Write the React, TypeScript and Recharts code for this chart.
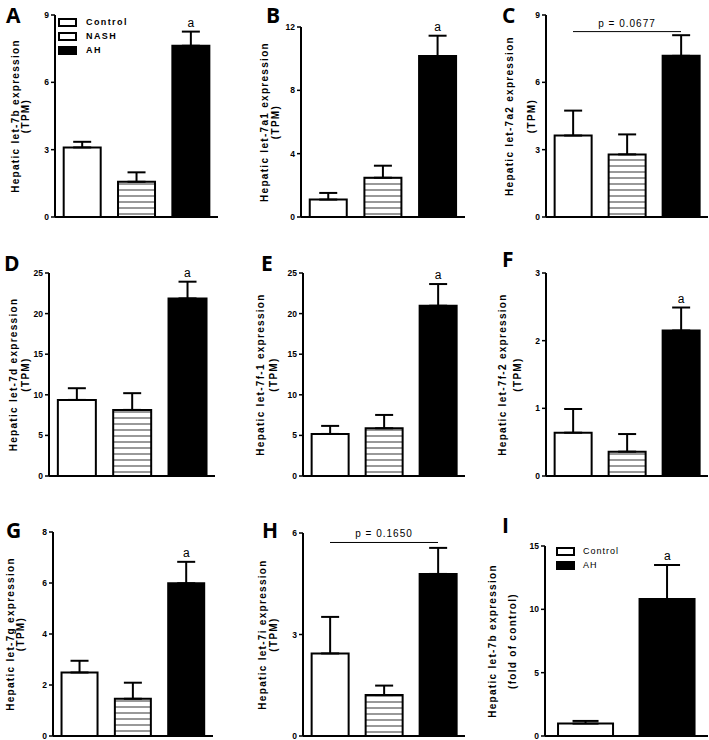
import {
  Bar,
  BarChart,
  Cell,
  ErrorBar,
  Legend,
  ReferenceDot,
  ReferenceLine,
  XAxis,
  YAxis,
} from "recharts";

// groups
const GROUPS = ["Control", "NASH", "AH"];
const GROUPS_FOLD = ["Control", "AH"];

// means and SEMs
const LET7B_TPM = [3.1, 1.57, 7.63];
const LET7B_TPM_SEM = [0.25, 0.42, 0.63];
const LET7A1_TPM = [1.1, 2.48, 10.17];
const LET7A1_TPM_SEM = [0.42, 0.76, 1.28];
const LET7A2_TPM = [3.63, 2.79, 7.18];
const LET7A2_TPM_SEM = [1.11, 0.89, 0.92];
const LET7D_TPM = [9.37, 8.14, 21.87];
const LET7D_TPM_SEM = [1.44, 2.06, 2.06];
const LET7F1_TPM = [5.18, 5.88, 20.97];
const LET7F1_TPM_SEM = [0.99, 1.64, 2.67];
const LET7F2_TPM = [0.64, 0.36, 2.15];
const LET7F2_TPM_SEM = [0.35, 0.26, 0.34];
const LET7G_TPM = [2.49, 1.46, 5.99];
const LET7G_TPM_SEM = [0.46, 0.63, 0.84];
const LET7I_TPM = [2.44, 1.21, 4.79];
const LET7I_TPM_SEM = [1.08, 0.28, 0.77];
const LET7B_FOLD = [0.98, 10.81];
const LET7B_FOLD_SEM = [0.21, 2.69];

// y ticks
const TICKS_A = [0, 3, 6, 9];
const TICKS_B = [0, 4, 8, 12];
const TICKS_C = [0, 3, 6, 9];
const TICKS_D = [0, 5, 10, 15, 20, 25];
const TICKS_E = [0, 5, 10, 15, 20, 25];
const TICKS_F = [0, 1, 2, 3];
const TICKS_G = [0, 2, 4, 6, 8];
const TICKS_H = [0, 3, 6];
const TICKS_I = [0, 5, 10, 15];

type PanelData = {
  letter: string;
  label: string[];
  groups: string[];
  mean: number[];
  sem: number[];
  ticks: number[];
  sig?: string;
  pText?: string;
  pY?: number;
  legend?: "bold" | "plain";
};

const PANELS: PanelData[] = [
  { letter: "A", label: ["Hepatic let-7b expression", "(TPM)"], groups: GROUPS, mean: LET7B_TPM, sem: LET7B_TPM_SEM, ticks: TICKS_A, sig: "a", legend: "bold" },
  { letter: "B", label: ["Hepatic let-7a1 expression", "(TPM)"], groups: GROUPS, mean: LET7A1_TPM, sem: LET7A1_TPM_SEM, ticks: TICKS_B, sig: "a" },
  { letter: "C", label: ["Hepatic let-7a2 expression", "(TPM)"], groups: GROUPS, mean: LET7A2_TPM, sem: LET7A2_TPM_SEM, ticks: TICKS_C, pText: "p = 0.0677", pY: 8.26 },
  { letter: "D", label: ["Hepatic let-7d expression", "(TPM)"], groups: GROUPS, mean: LET7D_TPM, sem: LET7D_TPM_SEM, ticks: TICKS_D, sig: "a" },
  { letter: "E", label: ["Hepatic let-7f-1 expression", "(TPM)"], groups: GROUPS, mean: LET7F1_TPM, sem: LET7F1_TPM_SEM, ticks: TICKS_E, sig: "a" },
  { letter: "F", label: ["Hepatic let-7f-2 expression", "(TPM)"], groups: GROUPS, mean: LET7F2_TPM, sem: LET7F2_TPM_SEM, ticks: TICKS_F, sig: "a" },
  { letter: "G", label: ["Hepatic let-7g expression", "(TPM)"], groups: GROUPS, mean: LET7G_TPM, sem: LET7G_TPM_SEM, ticks: TICKS_G, sig: "a" },
  { letter: "H", label: ["Hepatic let-7i expression", "(TPM)"], groups: GROUPS, mean: LET7I_TPM, sem: LET7I_TPM_SEM, ticks: TICKS_H, pText: "p = 0.1650", pY: 5.72 },
  { letter: "I", label: ["Hepatic let-7b expression", "(fold of control)"], groups: GROUPS_FOLD, mean: LET7B_FOLD, sem: LET7B_FOLD_SEM, ticks: TICKS_I, sig: "a", legend: "plain" },
];

// page positions of each panel (axis corner, plot top, axis end, letter, label columns)
const LAYOUT = [
  { axisX: 55, top: 15, bottom: 217, right: 218, letterX: 6, letterY: 1, labelX: [15, 25], capW: 9, legX: 58, legY: 15 },
  { axisX: 301, top: 27, bottom: 217, right: 465, letterX: 266, letterY: 1, labelX: [264, 275], capW: 9 },
  { axisX: 546, top: 15, bottom: 217, right: 708, letterX: 502, letterY: 1, labelX: [509, 531], capW: 9 },
  { axisX: 49, top: 273, bottom: 476, right: 215, letterX: 4, letterY: 249, labelX: [13, 25], capW: 9 },
  { axisX: 303, top: 273, bottom: 476, right: 465, letterX: 261, letterY: 249, labelX: [260, 273], capW: 9 },
  { axisX: 546, top: 273, bottom: 476, right: 708, letterX: 502, letterY: 245, labelX: [502, 517], capW: 9 },
  { axisX: 53, top: 532, bottom: 736, right: 213, letterX: 6, letterY: 516, labelX: [10, 20], capW: 9 },
  { axisX: 303, top: 533, bottom: 736, right: 465, letterX: 262, letterY: 516, labelX: [262, 273], capW: 9 },
  { axisX: 545, top: 546, bottom: 736, right: 708, letterX: 502, letterY: 511, labelX: [492, 512], capW: 13, legX: 556, legY: 544 },
];

const FILL: Record<string, string> = {
  Control: "#fff",
  NASH: "url(#nash-stripes)",
  AH: "#000",
};

const YW = 64;
const TOPM = 20;
const BOTM = 8;

function YLabel({ viewBox, lines, xs }: any) {
  const cy = viewBox.y + viewBox.height / 2;
  return (
    <g>
      {lines.map((t: string, i: number) => (
        <text
          key={t}
          x={xs[i]}
          y={cy}
          transform={`rotate(-90 ${xs[i]} ${cy})`}
          textAnchor="middle"
          dominantBaseline="central"
          fontSize={10}
          fontWeight={700}
          letterSpacing={1.3}
          fill="#000"
        >
          {t}
        </text>
      ))}
    </g>
  );
}

function LegendBox({ groups, kind }: { groups: string[]; kind: string }) {
  return (
    <div>
      {groups.map((g) => (
        <div key={g} style={{ display: "flex", alignItems: "center", height: 14 }}>
          <div
            style={{
              width: 15,
              height: 5,
              border: "2px solid #000",
              background: g === "AH" ? "#000" : "#fff",
            }}
          />
          <span
            style={{
              marginLeft: kind === "bold" ? 9 : 8,
              fontSize: 9,
              fontWeight: kind === "bold" ? 700 : 400,
              letterSpacing: kind === "bold" ? 1.4 : 1,
              color: "#000",
            }}
          >
            {g}
          </span>
        </div>
      ))}
    </div>
  );
}

function Panel({ p, g }: { p: PanelData; g: (typeof LAYOUT)[number] }) {
  const data = p.groups.map((group, i) => ({
    group,
    mean: p.mean[i],
    sem: [0, p.sem[i]],
    top: p.mean[i] + p.sem[i],
  }));
  const left = g.axisX - YW;
  const top = g.top - TOPM;
  const w = YW + g.right - g.axisX;
  const h = TOPM + g.bottom - g.top + 1 + BOTM;
  const last = data[data.length - 1];
  return (
    <>
      <div
        style={{
          position: "absolute",
          left: g.letterX,
          top: g.letterY,
          fontFamily: "'Open Sans'",
          fontWeight: 700,
          fontSize: 21,
          lineHeight: "28px",
          zIndex: 1,
        }}
      >
        {p.letter}
      </div>
      <div style={{ position: "absolute", left, top }}>
        <BarChart
          width={w}
          height={h}
          data={data}
          margin={{ top: TOPM, right: 0, bottom: BOTM, left: 0 }}
          barCategoryGap="16%"
        >
          <XAxis
            dataKey="group"
            height={1}
            tick={false}
            tickLine={false}
            axisLine={{ stroke: "#000", strokeWidth: 2 }}
          />
          <YAxis
            width={YW}
            domain={[0, p.ticks[p.ticks.length - 1]]}
            ticks={p.ticks}
            interval={0}
            tickSize={4}
            tickLine={{ stroke: "#000", strokeWidth: 1.5 }}
            axisLine={{ stroke: "#000", strokeWidth: 2 }}
            tick={{ fontSize: 8.5, fontWeight: 700, fill: "#000" }}
            label={<YLabel lines={p.label} xs={g.labelX.map((x) => x - left)} />}
          />
          <Bar dataKey="mean" stroke="#000" strokeWidth={2} isAnimationActive={false}>
            {data.map((d) => (
              <Cell key={d.group} fill={FILL[d.group]} />
            ))}
            <ErrorBar
              dataKey="sem"
              direction="y"
              width={g.capW}
              stroke="#000"
              strokeWidth={2}
              isAnimationActive={false}
            />
          </Bar>
          {p.sig && (
            <ReferenceDot
              x={last.group}
              y={last.top}
              r={0}
              fill="none"
              stroke="none"
              label={{ value: p.sig, position: "top", offset: 5, fontSize: 12, fill: "#000" }}
            />
          )}
          {p.pText && (
            <ReferenceLine
              segment={[
                { x: p.groups[0], y: p.pY },
                { x: last.group, y: p.pY },
              ]}
              stroke="#000"
              strokeWidth={1}
              label={{ value: p.pText, position: "top", offset: 5, fontSize: 10, fill: "#000", letterSpacing: 1 }}
            />
          )}
          {p.legend && (
            <Legend
              layout="horizontal"
              verticalAlign="middle"
              align="center"
              wrapperStyle={{ left: (g.legX ?? 0) - left, top: (g.legY ?? 0) - top, width: "auto" }}
              content={() => <LegendBox groups={p.groups} kind={p.legend!} />}
            />
          )}
        </BarChart>
      </div>
    </>
  );
}

export default function App() {
  return (
    <div
      style={{
        position: "absolute",
        left: 0,
        top: 0,
        width: 709,
        height: 740,
        overflow: "hidden",
        background: "#fff",
        fontFamily: "'Liberation Sans', Arial, sans-serif",
      }}
    >
      <svg width={0} height={0} style={{ position: "absolute" }}>
        <defs>
          <pattern id="nash-stripes" width={6} height={6} patternUnits="userSpaceOnUse">
            <rect width={6} height={6} fill="#fff" />
            <line x1={0} x2={6} y1={3} y2={3} stroke="#333" strokeWidth={1} />
          </pattern>
        </defs>
      </svg>
      {PANELS.map((p, i) => (
        <Panel key={p.letter} p={p} g={LAYOUT[i]} />
      ))}
    </div>
  );
}
